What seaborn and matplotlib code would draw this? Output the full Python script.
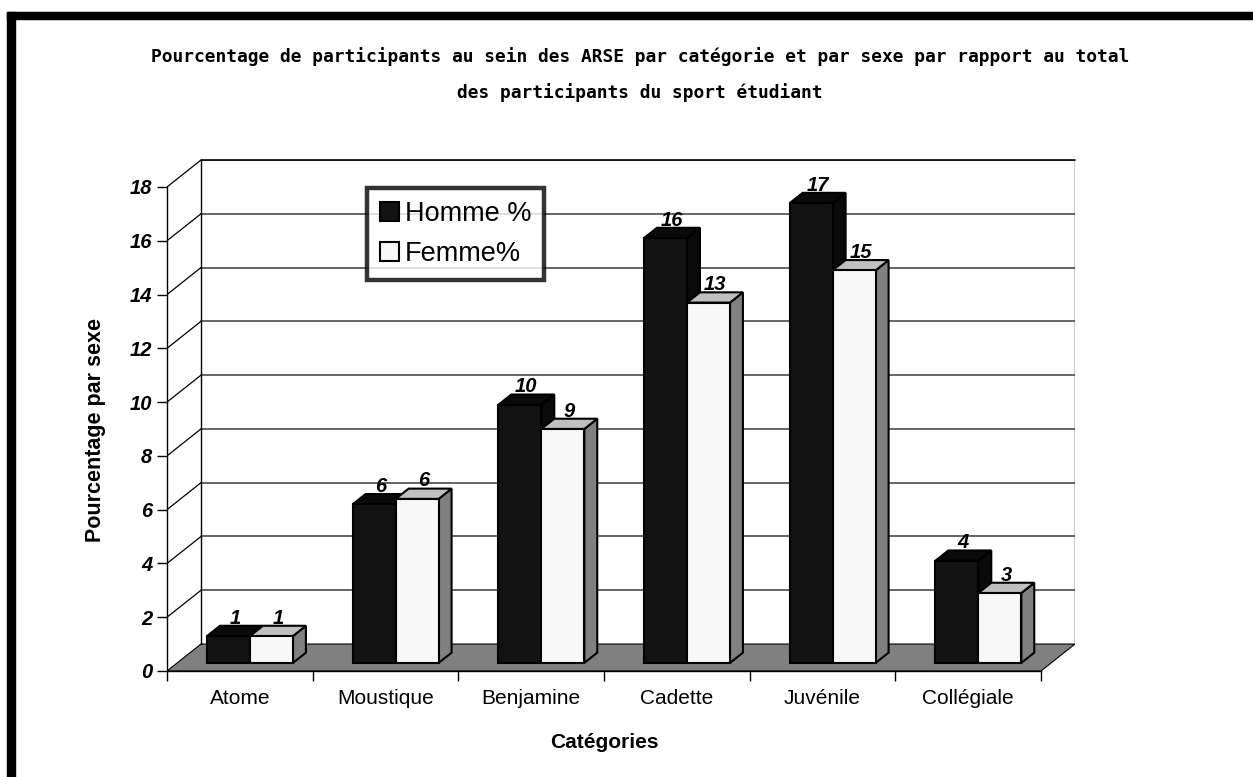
import numpy as np
import pandas as pd
import matplotlib.pyplot as plt
from matplotlib.patches import Polygon, Rectangle
from matplotlib.lines import Line2D
import seaborn as sns

# Données
categories = ["Atome", "Moustique", "Benjamine", "Cadette", "Juvénile", "Collégiale"]
series = ["Homme %", "Femme%"]
homme = [1.0, 5.9, 9.6, 15.8, 17.1, 3.8]
femme = [1.0, 6.1, 8.7, 13.4, 14.6, 2.6]
yticks = [0, 2, 4, 6, 8, 10, 12, 14, 16, 18]

df = pd.DataFrame({
    "Catégorie": categories * 2,
    "Sexe": [series[0]] * len(categories) + [series[1]] * len(categories),
    "Pourcentage": homme + femme,
})

sns.set_theme(style="ticks")
plt.rcParams['font.family'] = ['Liberation Sans', 'DejaVu Sans']
plt.rcParams['text.color'] = 'black'
plt.rcParams['axes.labelcolor'] = 'black'
plt.rcParams['xtick.color'] = 'black'
plt.rcParams['ytick.color'] = 'black'

W, H = 1253, 777
fig = plt.figure(figsize=(W / 100, H / 100), dpi=100)
ax_left, ax_right, ax_top, ax_bottom = 167, 1075, 160, 671
ax = fig.add_axes([ax_left / W, 1 - ax_bottom / H, (ax_right - ax_left) / W, (ax_bottom - ax_top) / H])

# profondeur de la perspective (en unités de données)
DX = 34 / 145.67
DY = 1.003
f_front = 0.3   # position de la face avant des barres dans la profondeur
f_depth = 0.38  # profondeur des barres

sns.barplot(data=df, x="Catégorie", y="Pourcentage", hue="Sexe", order=categories,
            hue_order=series, palette=["#121212", "#f8f8f8"], saturation=1,
            width=0.59, edgecolor="black", linewidth=1.5, errorbar=None, ax=ax)

n = len(categories)
ax.set_xlim(-0.5, n - 0.5 + DX)
ax.set_ylim(0, 18 + DY)

# sol gris
floor = Polygon([(-0.5, 0), (n - 0.5, 0), (n - 0.5 + DX, DY), (-0.5 + DX, DY)],
                closed=True, facecolor="#808080", edgecolor="black", linewidth=0.8, zorder=1)
ax.add_patch(floor)

# quadrillage du mur du fond et du mur gauche
for t in yticks[1:]:
    ax.add_line(Line2D([-0.5 + DX, n - 0.5 + DX], [t + DY, t + DY], color="#3a3a3a", lw=1.1, zorder=1.5))
    ax.add_line(Line2D([-0.5, -0.5 + DX], [t, t + DY], color="black", lw=0.9, zorder=1.5))
ax.add_line(Line2D([-0.5 + DX, n - 0.5 + DX], [18 + DY, 18 + DY], color="black", lw=1.2, zorder=1.5,
                   clip_on=False))
ax.add_line(Line2D([-0.5 + DX, -0.5 + DX], [DY, 18 + DY], color="black", lw=1, zorder=1.5))
ax.add_line(Line2D([n - 0.5 + DX, n - 0.5 + DX], [DY, 18 + DY], color="black", lw=1, zorder=1.5))

# effet 3D sur les barres
side_cols = ["#0a0a0a", "#808080"]
top_cols = ["#0a0a0a", "#c0c0c0"]
for h, cont in enumerate(ax.containers):
    for c, bar in enumerate(cont.patches):
        base = 3 + c + h * 0.5
        x0 = bar.get_x() + f_front * DX
        y0 = f_front * DY
        w = bar.get_width()
        v = bar.get_height()
        bar.set_x(x0)
        bar.set_y(y0)
        bar.set_zorder(base + 0.2)
        dx, dy = f_depth * DX, f_depth * DY
        side = Polygon([(x0 + w, y0), (x0 + w + dx, y0 + dy), (x0 + w + dx, y0 + v + dy), (x0 + w, y0 + v)],
                       closed=True, facecolor=side_cols[h], edgecolor="black", linewidth=1.5, zorder=base)
        top = Polygon([(x0, y0 + v), (x0 + w, y0 + v), (x0 + w + dx, y0 + v + dy), (x0 + dx, y0 + v + dy)],
                      closed=True, facecolor=top_cols[h], edgecolor="black", linewidth=1.5, zorder=base + 0.1)
        ax.add_patch(side)
        ax.add_patch(top)
        ax.text(x0 + w / 2 + dx / 2, y0 + v + dy + 0.08, f"{round(v)}", ha="center", va="baseline",
                fontsize=14.5, fontweight="bold", fontstyle="italic", zorder=20)

# axes
sns.despine(ax=ax)
ax.spines["left"].set_bounds(0, 18)
ax.spines["bottom"].set_bounds(-0.5, n - 0.5)
for s in ["left", "bottom"]:
    ax.spines[s].set_linewidth(1)
    ax.spines[s].set_color("black")
ax.set_yticks(yticks)
ax.set_yticklabels([str(t) for t in yticks], fontsize=14.5, fontweight="bold", fontstyle="italic")
ax.tick_params(axis="y", length=7, width=1, pad=3.5)
ax.set_xticks(np.arange(n + 1) - 0.5)
ax.set_xticklabels([])
ax.set_xticks(np.arange(n), minor=True)
ax.set_xticklabels(categories, minor=True, fontsize=15)
ax.tick_params(axis="x", which="major", length=7, width=1)
ax.tick_params(axis="x", which="minor", length=0, pad=13)

ax.set_xlabel("Catégories", fontsize=15, fontweight="bold")
ax.xaxis.set_label_coords((604 - ax_left) / (ax_right - ax_left), (ax_bottom - 743) / (ax_bottom - ax_top))
ax.xaxis.label.set_verticalalignment("center")
ax.set_ylabel("Pourcentage par sexe", fontsize=15.5, fontweight="bold")
ax.yaxis.set_label_coords((95 - ax_left) / (ax_right - ax_left), (ax_bottom - 430) / (ax_bottom - ax_top))
ax.yaxis.label.set_verticalalignment("center")

# légende
handles, labels = ax.get_legend_handles_labels()
leg = ax.legend(handles, labels, loc="upper left", bbox_to_anchor=(367 / W, 1 - 188 / H),
                bbox_transform=fig.transFigure, borderaxespad=0, fontsize=19.5, frameon=True,
                fancybox=False, handlelength=0.7, handleheight=0.7, handletextpad=0.2,
                labelspacing=0.5, borderpad=0.49, title=None)
leg.get_frame().set_edgecolor("black")
leg.get_frame().set_linewidth(3.2)
leg.set_zorder(30)

# titre
fig.text(640 / W, 1 - 57 / H,
         "Pourcentage de participants au sein des ARSE par catégorie et par sexe par rapport au total",
         ha="center", va="center", family="DejaVu Sans Mono", fontweight="bold", fontsize=12.9)
fig.text(640 / W, 1 - 93 / H, "des participants du sport étudiant",
         ha="center", va="center", family="DejaVu Sans Mono", fontweight="bold", fontsize=12.9)

# cadre noir en haut et à gauche
fig.patches.append(Rectangle((7 / W, 1 - 19 / H), 1, 7 / H, transform=fig.transFigure, color="black"))
fig.patches.append(Rectangle((7 / W, 0), 8 / W, 1 - 12 / H, transform=fig.transFigure, color="black"))

fig.savefig("out.png", dpi=100, facecolor="white")
